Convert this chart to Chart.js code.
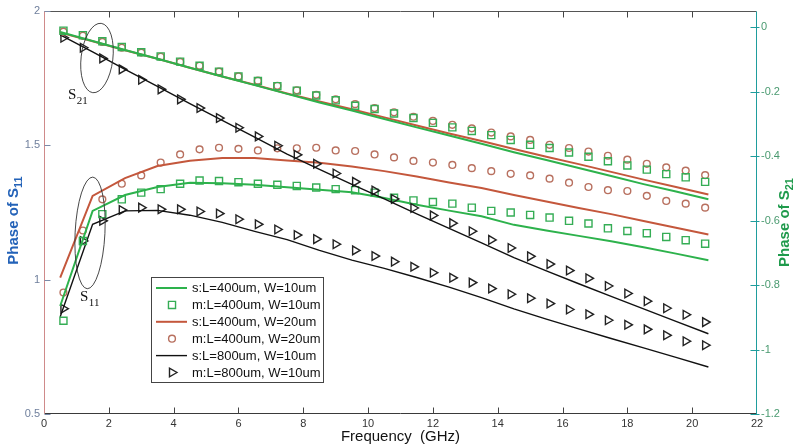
<!DOCTYPE html>
<html>
<head>
<meta charset="utf-8">
<script src="https://cdn.jsdelivr.net/npm/chart.js@4.4.1/dist/chart.umd.min.js"></script>
<style>
  html, body { margin: 0; padding: 0; background: #fff; }
</style>
</head>
<body>
<canvas id="chart" width="797" height="446"></canvas>
<script>
// frequencies (GHz)
const simFreq = [0.5, 1.5, 2.5, 3.5, 4.5, 5.5, 6.5, 7.5, 8.5, 9.5, 10.5, 11.5, 12.5, 13.5, 14.5, 15.5, 16.5, 17.5, 18.5, 19.5, 20.5];
const measFreq = [0.6, 1.2, 1.8, 2.4, 3.0, 3.6, 4.2, 4.8, 5.4, 6.0, 6.6, 7.2, 7.8, 8.4, 9.0, 9.6, 10.2, 10.8, 11.4, 12.0,
  12.6, 13.2, 13.8, 14.4, 15.0, 15.6, 16.2, 16.8, 17.4, 18.0, 18.6, 19.2, 19.8, 20.4];

// phase of S21 (right axis)
const s21SimL400W10 = [-0.015, -0.043, -0.071, -0.098, -0.126, -0.153, -0.180, -0.207, -0.234, -0.259, -0.285, -0.311, -0.336, -0.362, -0.388, -0.412, -0.437, -0.462, -0.487, -0.510, -0.534];
const s21SimL400W20 = [-0.017, -0.044, -0.072, -0.098, -0.126, -0.153, -0.179, -0.206, -0.231, -0.255, -0.280, -0.305, -0.330, -0.353, -0.378, -0.402, -0.425, -0.449, -0.473, -0.496, -0.519];
const s21SimL800W10 = [-0.024, -0.077, -0.131, -0.184, -0.237, -0.289, -0.341, -0.394, -0.441, -0.488, -0.533, -0.579, -0.624, -0.669, -0.715, -0.756, -0.796, -0.835, -0.874, -0.913, -0.951];
const s21MeasL400W10 = [-0.011, -0.025, -0.044, -0.062, -0.078, -0.091, -0.107, -0.120, -0.138, -0.153, -0.167, -0.183, -0.197, -0.212, -0.227, -0.244, -0.254,
  -0.268, -0.282, -0.297, -0.311, -0.322, -0.335, -0.350, -0.365, -0.375, -0.389, -0.402, -0.416, -0.429, -0.442, -0.456, -0.466, -0.480];
const s21MeasL400W20 = [-0.014, -0.027, -0.046, -0.064, -0.079, -0.092, -0.108, -0.120, -0.138, -0.153, -0.166, -0.182, -0.196, -0.210, -0.224, -0.239, -0.251,
  -0.264, -0.278, -0.291, -0.303, -0.314, -0.327, -0.339, -0.350, -0.365, -0.375, -0.386, -0.399, -0.411, -0.424, -0.435, -0.445, -0.459];
const s21MeasL800W10 = [-0.033, -0.064, -0.097, -0.131, -0.163, -0.193, -0.224, -0.251, -0.282, -0.312, -0.339, -0.368, -0.396, -0.424, -0.454, -0.480, -0.507,
  -0.533, -0.561, -0.584, -0.608, -0.633, -0.660, -0.685, -0.711, -0.735, -0.755, -0.779, -0.803, -0.826, -0.850, -0.872, -0.892, -0.915];

// phase of S11 (left axis)
const s11SimL400W10 = [0.902, 1.256, 1.315, 1.345, 1.361, 1.359, 1.353, 1.344, 1.335, 1.325, 1.304, 1.279, 1.257, 1.236, 1.204, 1.183, 1.163, 1.143, 1.121, 1.097, 1.072];
const s11SimL400W20 = [1.008, 1.312, 1.378, 1.423, 1.443, 1.453, 1.453, 1.444, 1.435, 1.421, 1.404, 1.384, 1.362, 1.341, 1.315, 1.291, 1.267, 1.244, 1.218, 1.193, 1.168];
const s11SimL800W10 = [0.862, 1.206, 1.256, 1.258, 1.240, 1.213, 1.180, 1.149, 1.109, 1.073, 1.042, 1.008, 0.972, 0.933, 0.891, 0.853, 0.817, 0.781, 0.746, 0.711, 0.675];
const s11MeasL400W10 = [0.847, 1.144, 1.244, 1.299, 1.324, 1.337, 1.357, 1.369, 1.367, 1.363, 1.357, 1.353, 1.349, 1.343, 1.337, 1.333, 1.324,
  1.305, 1.295, 1.289, 1.283, 1.268, 1.256, 1.250, 1.241, 1.231, 1.219, 1.209, 1.191, 1.181, 1.173, 1.159, 1.147, 1.134];
const s11MeasL400W20 = [0.952, 1.183, 1.299, 1.357, 1.388, 1.436, 1.466, 1.485, 1.491, 1.487, 1.481, 1.489, 1.489, 1.491, 1.481, 1.479, 1.466,
  1.455, 1.442, 1.436, 1.427, 1.415, 1.404, 1.394, 1.388, 1.376, 1.361, 1.345, 1.333, 1.330, 1.312, 1.293, 1.283, 1.268];
const s11MeasL800W10 = [0.892, 1.144, 1.219, 1.259, 1.268, 1.262, 1.262, 1.254, 1.246, 1.225, 1.206, 1.187, 1.166, 1.151, 1.132, 1.109, 1.088,
  1.067, 1.048, 1.026, 1.007, 0.989, 0.967, 0.946, 0.931, 0.911, 0.889, 0.871, 0.849, 0.832, 0.815, 0.793, 0.771, 0.756];

const seriesLabels = ['s:L=400um, W=10um', 'm:L=400um, W=10um', 's:L=400um, W=20um', 'm:L=400um, W=20um', 's:L=800um, W=10um', 'm:L=800um, W=10um'];
const xTicks = [0, 2, 4, 6, 8, 10, 12, 14, 16, 18, 20, 22];
const leftTicks = [0.5, 1, 1.5, 2];
const rightTicks = [0, -0.2, -0.4, -0.6, -0.8, -1, -1.2];

const GREEN = '#2db24c';
const BROWN = '#c4573c';
const MARK_GREEN = '#35ad55';
const MARK_BROWN = '#b8705f';
const BLACK = '#111';

const pts = (xs, ys) => xs.map((x, i) => ({ x, y: ys[i] }));

function simLine(label, xs, ys, color, width, axis, inLegend) {
  return { label, data: pts(xs, ys), yAxisID: axis, showLine: true, borderColor: color, borderWidth: width,
    pointRadius: 0, tension: 0, inLegend };
}
function measPts(label, xs, ys, color, style, radius, rotation, axis, inLegend) {
  return { label, data: pts(xs, ys), yAxisID: axis, showLine: false, borderColor: color, backgroundColor: 'rgba(0,0,0,0)',
    pointStyle: style, pointRadius: radius, pointRotation: rotation, pointBorderWidth: 1.4, inLegend };
}

const datasets = [
  simLine(seriesLabels[0], simFreq, s21SimL400W10, GREEN, 2, 'y1', true),
  measPts(seriesLabels[1], measFreq, s21MeasL400W10, MARK_GREEN, 'rect', 5, 0, 'y1', true),
  simLine(seriesLabels[2], simFreq, s21SimL400W20, BROWN, 2, 'y1', true),
  measPts(seriesLabels[3], measFreq, s21MeasL400W20, MARK_BROWN, 'circle', 3.4, 0, 'y1', true),
  simLine(seriesLabels[4], simFreq, s21SimL800W10, BLACK, 1.4, 'y1', true),
  measPts(seriesLabels[5], measFreq, s21MeasL800W10, '#222', 'triangle', 5, 90, 'y1', true),
  simLine(seriesLabels[0], simFreq, s11SimL400W10, GREEN, 2, 'y', false),
  measPts(seriesLabels[1], measFreq, s11MeasL400W10, MARK_GREEN, 'rect', 5, 0, 'y', false),
  simLine(seriesLabels[2], simFreq, s11SimL400W20, BROWN, 2, 'y', false),
  measPts(seriesLabels[3], measFreq, s11MeasL400W20, MARK_BROWN, 'circle', 3.4, 0, 'y', false),
  simLine(seriesLabels[4], simFreq, s11SimL800W10, BLACK, 1.4, 'y', false),
  measPts(seriesLabels[5], measFreq, s11MeasL800W10, '#222', 'triangle', 5, 90, 'y', false)
];

const fmt = v => String(+(+v).toFixed(2));

// draws "main" followed by a subscript, centred on (0,0) of the current transform
function textWithSub(ctx, main, sub, font, subFont, subDrop) {
  ctx.font = font;
  const w1 = ctx.measureText(main).width;
  ctx.font = subFont;
  const w2 = ctx.measureText(sub).width;
  const x0 = -(w1 + w2) / 2;
  ctx.textAlign = 'left';
  ctx.textBaseline = 'alphabetic';
  ctx.font = font;
  ctx.fillText(main, x0, 0);
  ctx.font = subFont;
  ctx.fillText(sub, x0 + w1, subDrop);
}

const framePlugin = {
  id: 'frame',
  beforeDraw(chart) {
    const ctx = chart.ctx;
    ctx.save();
    ctx.fillStyle = '#fff';
    ctx.fillRect(0, 0, chart.width, chart.height);
    ctx.restore();
  },
  afterDatasetsDraw(chart) {
    const { ctx, chartArea: a, scales } = chart;
    const L = Math.round(a.left) + 0.5, R = Math.round(a.right) - 0.5;
    const T = Math.round(a.top) + 0.5, B = Math.round(a.bottom) - 0.5;
    ctx.save();
    ctx.lineWidth = 1;

    // annotations: ellipses and S21 / S11 labels
    const ell = (cx, cy, rx, ry, rot) => {
      const px = scales.x.getPixelForValue(cx), py = scales.y.getPixelForValue(cy);
      const w = scales.x.getPixelForValue(cx + rx) - px;
      const h = py - scales.y.getPixelForValue(cy + ry);
      ctx.beginPath();
      ctx.ellipse(px, py, w, h, rot, 0, Math.PI * 2);
      ctx.strokeStyle = '#333';
      ctx.lineWidth = 0.9;
      ctx.stroke();
    };
    ell(1.635, 1.825, 0.49, 0.130, 0.12);
    ell(1.42, 1.174, 0.46, 0.208, 0.05);
    ctx.fillStyle = '#111';
    const lab = (fx, v, sub) => {
      const px = scales.x.getPixelForValue(fx), py = scales.y.getPixelForValue(v);
      ctx.font = '15px "Liberation Serif", "Times New Roman", serif';
      ctx.textAlign = 'left';
      ctx.textBaseline = 'alphabetic';
      ctx.fillText('S', px, py);
      const w = ctx.measureText('S').width;
      ctx.font = '11px "Liberation Serif", "Times New Roman", serif';
      ctx.fillText(sub, px + w + 0.5, py + 5);
    };
    lab(0.74, 1.6725, '21');
    lab(1.11, 0.921, '11');

    // frame
    ctx.lineWidth = 1;
    ctx.strokeStyle = '#555';
    ctx.beginPath(); ctx.moveTo(L, T); ctx.lineTo(R, T); ctx.stroke();
    ctx.strokeStyle = '#3a3a3a';
    ctx.beginPath(); ctx.moveTo(L, B); ctx.lineTo(R, B); ctx.stroke();
    ctx.strokeStyle = '#cf8a8a';
    ctx.beginPath(); ctx.moveTo(L, T); ctx.lineTo(L, B); ctx.stroke();
    ctx.strokeStyle = '#1f9d9d';
    ctx.beginPath(); ctx.moveTo(R, T); ctx.lineTo(R, B + 1); ctx.stroke();

    // ticks
    ctx.strokeStyle = '#444';
    xTicks.forEach(v => {
      const x = Math.round(scales.x.getPixelForValue(v)) + 0.5;
      if (v === 0 || v === 22) return;
      ctx.beginPath(); ctx.moveTo(x, B); ctx.lineTo(x, B - 6); ctx.stroke();
      ctx.beginPath(); ctx.moveTo(x, T); ctx.lineTo(x, T + 6); ctx.stroke();
    });
    ctx.strokeStyle = '#7a8aa8';
    leftTicks.forEach(v => {
      const y = Math.round(scales.y.getPixelForValue(v)) + 0.5;
      ctx.beginPath(); ctx.moveTo(L, y); ctx.lineTo(L + 6, y); ctx.stroke();
    });
    ctx.strokeStyle = '#1f9d9d';
    rightTicks.forEach(v => {
      const y = Math.round(scales.y1.getPixelForValue(v)) + 0.5;
      ctx.beginPath(); ctx.moveTo(R - 6, y); ctx.lineTo(R + 3, y); ctx.stroke();
    });

    // legend box
    const bx = 151.5, by = 277.5, bw = 172, bh = 105;
    ctx.fillStyle = '#fff';
    ctx.fillRect(bx, by, bw, bh);
    ctx.strokeStyle = '#444';
    ctx.strokeRect(bx, by, bw, bh);
    const legendSets = chart.data.datasets.filter(d => d.inLegend);
    legendSets.forEach((d, i) => {
      const y = 288 + i * 16.9;
      if (d.showLine) {
        ctx.strokeStyle = d.borderColor;
        ctx.lineWidth = d.borderWidth;
        ctx.beginPath(); ctx.moveTo(156, y); ctx.lineTo(187, y); ctx.stroke();
      } else {
        ctx.strokeStyle = d.borderColor;
        ctx.fillStyle = 'rgba(0,0,0,0)';
        ctx.lineWidth = d.pointBorderWidth;
        Chart.helpers.drawPoint(ctx, { pointStyle: d.pointStyle, rotation: d.pointRotation, radius: d.pointRadius, borderWidth: d.pointBorderWidth }, 172, y);
      }
      ctx.fillStyle = '#111';
      ctx.font = '13px "Liberation Sans", Arial, sans-serif';
      ctx.textAlign = 'left';
      ctx.textBaseline = 'middle';
      ctx.fillText(d.label, 192, y + 0.5);
    });

    // axis titles
    ctx.fillStyle = '#2362b8';
    ctx.save();
    ctx.translate(18, (a.top + a.bottom) / 2 + 8);
    ctx.rotate(-Math.PI / 2);
    textWithSub(ctx, 'Phase of S', '11', 'bold 15px "Liberation Sans", Arial, sans-serif', 'bold 11px "Liberation Sans", Arial, sans-serif', 4);
    ctx.restore();
    ctx.fillStyle = '#1f9a4c';
    ctx.save();
    ctx.translate(789, (a.top + a.bottom) / 2 + 10);
    ctx.rotate(-Math.PI / 2);
    textWithSub(ctx, 'Phase of S', '21', 'bold 15px "Liberation Sans", Arial, sans-serif', 'bold 11px "Liberation Sans", Arial, sans-serif', 4);
    ctx.restore();
    ctx.fillStyle = '#111';
    ctx.font = '15px "Liberation Sans", Arial, sans-serif';
    ctx.textAlign = 'center';
    ctx.textBaseline = 'alphabetic';
    ctx.fillText('Frequency  (GHz)', (a.left + a.right) / 2, 441);
    ctx.restore();
  }
};

new Chart(document.getElementById('chart'), {
  type: 'scatter',
  data: { datasets },
  options: {
    responsive: false,
    animation: false,
    devicePixelRatio: 1,
    layout: { padding: { top: 11, left: 0, right: 0, bottom: 0 } },
    plugins: { legend: { display: false }, tooltip: { enabled: false } },
    scales: {
      x: {
        type: 'linear', min: 0, max: 22,
        afterFit: s => { s.height = 32; },
        afterBuildTicks: s => { s.ticks = xTicks.map(v => ({ value: v })); },
        grid: { display: false, drawTicks: false },
        border: { display: false },
        ticks: { padding: 3, color: '#333', font: { family: '"Liberation Sans Narrow", "Arial Narrow", "Liberation Sans", sans-serif', size: 11 }, callback: fmt, maxRotation: 0, autoSkip: false }
      },
      y: {
        type: 'linear', position: 'left', min: 0.5, max: 2,
        afterFit: s => { s.width = 44; },
        afterBuildTicks: s => { s.ticks = leftTicks.map(v => ({ value: v })); },
        grid: { display: false, drawTicks: false },
        border: { display: false },
        ticks: { padding: 4, color: '#6f7f9c', font: { family: '"Liberation Sans", Arial, sans-serif', size: 11 }, callback: fmt }
      },
      y1: {
        type: 'linear', position: 'right', min: -1.2, max: 0.05,
        afterFit: s => { s.width = 40; },
        afterBuildTicks: s => { s.ticks = rightTicks.map(v => ({ value: v })); },
        grid: { display: false, drawTicks: false },
        border: { display: false },
        ticks: { padding: 4, color: '#4a9a70', font: { family: '"Liberation Sans", Arial, sans-serif', size: 11 }, callback: fmt }
      }
    }
  },
  plugins: [framePlugin]
});
</script>
</body>
</html>
